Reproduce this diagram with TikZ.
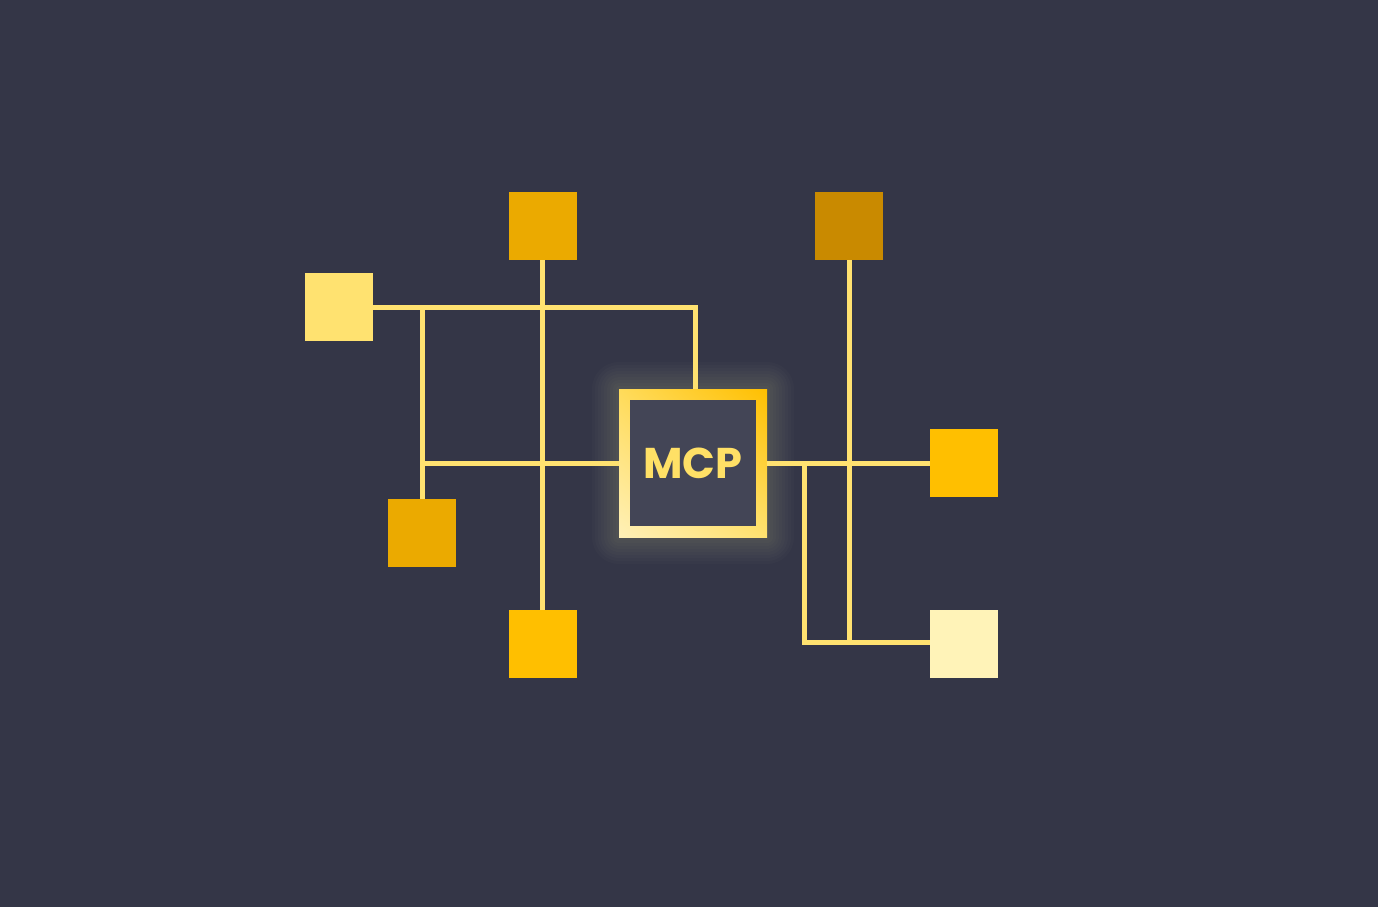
\documentclass[tikz,border=0pt]{standalone}
\usepackage{fontspec}
\setmainfont{Poppins}
\usetikzlibrary{shadings}
\definecolor{bgcol}{HTML}{343647}
\definecolor{wire}{HTML}{FFE270}
\definecolor{mcpfill}{HTML}{434556}
\definecolor{mcptext}{HTML}{FFE066}
\definecolor{amber}{HTML}{EBAA00}
\definecolor{bronze}{HTML}{C98A00}
\definecolor{gold}{HTML}{FFBF00}
\definecolor{butter}{HTML}{FFE270}
\definecolor{cream}{HTML}{FFF3B8}
\definecolor{halo}{HTML}{D8D0A0}
\tikzset{
  sq/.style={minimum size=68pt, inner sep=0pt, outer sep=0pt},
  wireline/.style={draw=wire, line width=5pt}
}
\begin{document}
\begin{tikzpicture}[x=1pt,y=-1pt]

%draw background
\fill[bgcol] (0,0) rectangle (1378,907);
\useasboundingbox (0,0) rectangle (1378,907);

%draw squares
\foreach \n/\x/\y/\c in {t1/542.5/226/amber, t2/849/226/bronze, l1/339/307/butter, l2/422/533/amber, b1/542.5/644/gold, r1/964/463/gold, r2/964/644/cream}
\node[sq, fill=\c] (\n) at (\x,\y) {};

%draw glow
\foreach \g in {3,6,...,27}
\fill[halo, opacity=0.025, rounded corners=\g pt] ({693-74-\g},{463-74-\g}) rectangle ({693+74+\g},{463+74+\g});

%draw MCP box
\node[sq, minimum size=148pt, upper left=wire!80!gold, upper right=gold, lower left=wire!50!white, lower right=wire] (mcp) at (693,463) {};
\node[sq, minimum size=126pt, fill=mcpfill, text=mcptext, font=\bfseries\fontsize{43}{43}\selectfont] (mcplabel) at (mcp) {MCP};

%draw connectors left
\coordinate (rj) at (804,463);
\draw[wireline] (t1.south) -- (b1.north);
\draw[wireline] (l1.east) -| ([xshift=2pt]mcp.north);
\draw[wireline] (l2.north) -- (l2.north |- l1.east);
\draw[wireline] (mcp.west) -- (mcp.west -| l2.north);

%draw connectors right
\draw[wireline] (mcp.east) -- (r1.west);
\draw[wireline] (t2.south) -- (t2.south |- r2.west);
\draw[wireline] (rj) |- ([yshift=2pt]r2.west);
\end{tikzpicture}
\end{document}
